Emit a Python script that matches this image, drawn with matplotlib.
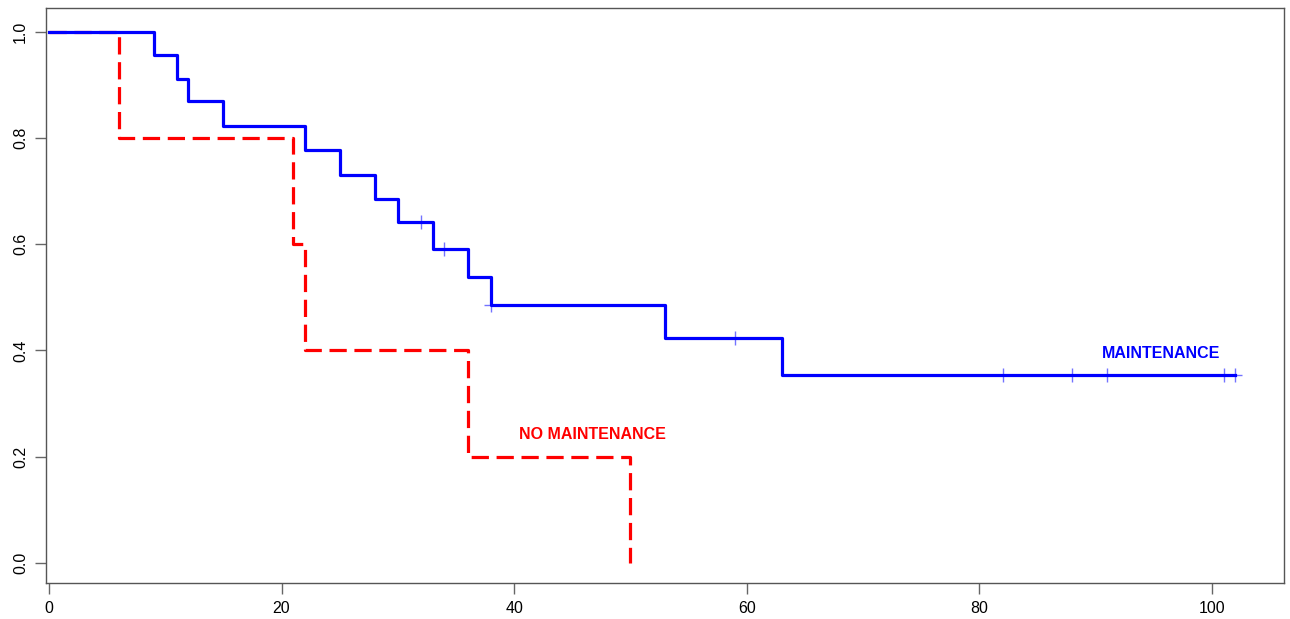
import matplotlib
matplotlib.use("Agg")
import matplotlib.pyplot as plt

plt.rcParams['font.family'] = ['Liberation Sans', 'DejaVu Sans']

# maintenance group: step times and survival values
maint_t = [0, 9, 11, 12, 15, 22, 25, 28, 30, 33, 36, 38, 53, 63, 102]
maint_s = [1.0, 0.957, 0.911, 0.870, 0.823, 0.778, 0.731, 0.685, 0.642,
           0.591, 0.539, 0.486, 0.424, 0.354, 0.354]
maint_cens_t = [32, 34, 38, 59, 82, 88, 91, 101, 102]
maint_cens_s = [0.642, 0.591, 0.486, 0.424, 0.354, 0.354, 0.354, 0.354, 0.354]

# no maintenance group
nomaint_t = [0, 6, 21, 22, 36, 50]
nomaint_s = [1.0, 0.8, 0.6, 0.4, 0.2, 0.0]

fig = plt.figure(figsize=(12.9, 6.19), dpi=100)
ax = fig.add_axes([46/1290, 1 - 583/619, 1238/1290, 575/619])

ax.step(nomaint_t, nomaint_s, where='post', color='#ff0000', lw=2.3,
        dashes=(5.4, 2.4))
ax.step(maint_t, maint_s, where='post', color='#0000ff', lw=2.3)
ax.plot(maint_cens_t, maint_cens_s, ls='none', marker='+', ms=10, mew=1.0,
        color='#0000ff', alpha=0.55)

ax.text(95.6, 0.395, 'MAINTENANCE', color='#0000ff', fontsize=11.5,
        fontweight='bold', ha='center', va='center')
ax.text(46.7, 0.241, 'NO MAINTENANCE', color='#ff0000', fontsize=11.5,
        fontweight='bold', ha='center', va='center')

ax.set_xlim(-0.25, 106.2)
ax.set_ylim(-0.038, 1.045)
ax.set_xticks([0, 20, 40, 60, 80, 100])
ax.set_yticks([0.0, 0.2, 0.4, 0.6, 0.8, 1.0])
ax.set_yticklabels(['0.0', '0.2', '0.4', '0.6', '0.8', '1.0'],
                   rotation=90, va='center')
ax.tick_params(axis='both', colors='#666666', labelcolor='black',
               labelsize=11.5, length=8, width=1, pad=5)
for sp in ax.spines.values():
    sp.set_color('#555555')
    sp.set_linewidth(1)

fig.savefig('out.png', dpi=100)
